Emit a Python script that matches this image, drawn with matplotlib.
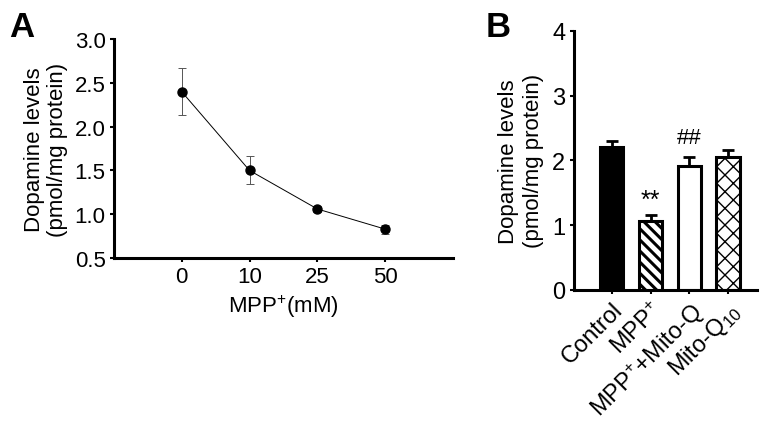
import numpy as np
import matplotlib.pyplot as plt
from matplotlib.transforms import ScaledTranslation

plt.rcParams['font.family'] = ['Liberation Sans', 'DejaVu Sans']
plt.rcParams['mathtext.fontset'] = 'custom'
plt.rcParams['mathtext.rm'] = 'Liberation Sans'
plt.rcParams['mathtext.it'] = 'Liberation Sans'
plt.rcParams['hatch.linewidth'] = 1.2

# Panel A data
dose_labels = ['0', '10', '25', '50']
dopamine_a = [2.40, 1.50, 1.06, 0.83]
err_a = [0.27, 0.16, 0.03, 0.05]

# Panel B data
groups = ['Control', 'MPP$^{+}$', 'MPP$^{+}$+Mito-Q', 'Mito-Q$_{10}$']
dopamine_b = [2.20, 1.07, 1.91, 2.05]
err_b = [0.10, 0.09, 0.15, 0.11]

fig = plt.figure(figsize=(7.64, 4.31), dpi=100)

# ---------------- Panel A ----------------
ax1 = fig.add_axes([0.149, 0.399, 0.444, 0.508])
x = np.arange(len(dose_labels))
ax1.errorbar(x, dopamine_a, yerr=err_a, fmt='-o', color='black', ms=6.5,
             lw=0.7, elinewidth=0.7, capsize=3, capthick=0.7,
             markeredgecolor='black', ecolor='#555555')
ax1.set_xlim(-1, 4)
ax1.set_ylim(0.5, 3.0)
ax1.set_xticks(x)
ax1.set_xticklabels(dose_labels)
ax1.set_yticks([0.5, 1.0, 1.5, 2.0, 2.5, 3.0])
ax1.set_yticklabels(['0.5', '1.0', '1.5', '2.0', '2.5', '3.0'])
ax1.set_xlabel('MPP$^{+}$(mM)', fontsize=16, labelpad=4)
ax1.set_ylabel('Dopamine levels\n(pmol/mg protein)', fontsize=16,
               labelpad=5, linespacing=1.1)
for s in ['top', 'right']:
    ax1.spines[s].set_visible(False)
for s in ['left', 'bottom']:
    ax1.spines[s].set_linewidth(2.2)
ax1.tick_params(labelsize=16, width=1.5, length=3, pad=3)
fig.text(0.012, 0.915, 'A', fontsize=25, fontweight='bold')

# ---------------- Panel B ----------------
ax2 = fig.add_axes([0.751, 0.325, 0.240, 0.601])
xb = np.arange(len(groups))
colors = ['black', 'white', 'white', 'white']
hatches = [None, '\\\\\\', None, 'xx']
hatch_lw = [1.2, 2.2, 1.2, 1.0]
for i in range(len(groups)):
    with plt.rc_context({'hatch.linewidth': hatch_lw[i]}):
        ax2.bar(xb[i], dopamine_b[i], width=0.6, color=colors[i],
                edgecolor='black', linewidth=2.2, hatch=hatches[i], zorder=2)
ax2.errorbar(xb, dopamine_b, yerr=[np.zeros(len(err_b)), err_b], fmt='none',
             ecolor='black', elinewidth=2, capsize=4, capthick=2, zorder=1)
ax2.text(xb[1], dopamine_b[1] + err_b[1] + 0.05, '**', ha='center',
         va='bottom', fontsize=18)
ax2.text(xb[2], dopamine_b[2] + err_b[2] + 0.13, '##', ha='center',
         va='bottom', fontsize=16)
ax2.set_xlim(-0.98, 3.75)
ax2.set_ylim(0, 4)
ax2.set_yticks([0, 1, 2, 3, 4])
ax2.set_xticks(xb)
ax2.set_xticklabels(groups, rotation=45, ha='right', rotation_mode='anchor')
shift = ScaledTranslation(0.06, -0.03, fig.dpi_scale_trans)
for lab in ax2.get_xticklabels():
    lab.set_transform(lab.get_transform() + shift)
ax2.set_ylabel('Dopamine levels\n(pmol/mg protein)', fontsize=16,
               labelpad=6, linespacing=1.25)
for s in ['top', 'right']:
    ax2.spines[s].set_visible(False)
for s in ['left', 'bottom']:
    ax2.spines[s].set_linewidth(2.2)
ax2.tick_params(labelsize=17, width=1.5, length=3, pad=3)
fig.text(0.635, 0.915, 'B', fontsize=25, fontweight='bold')

fig.savefig('out.png', dpi=100)
